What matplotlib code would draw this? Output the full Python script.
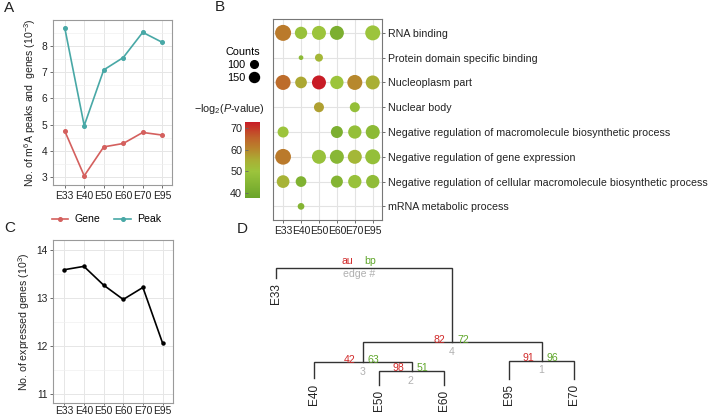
import numpy as np
import matplotlib
matplotlib.use('Agg')
import matplotlib.pyplot as plt
from matplotlib.colors import LinearSegmentedColormap, Normalize
from matplotlib.lines import Line2D

plt.rcParams['font.family'] = ['Liberation Sans', 'DejaVu Sans']
plt.rcParams['mathtext.fontset'] = 'custom'
plt.rcParams['mathtext.rm'] = 'Liberation Sans'
plt.rcParams['mathtext.it'] = 'Liberation Sans:italic'

# ---- data ----
stages = ['E33', 'E40', 'E50', 'E60', 'E70', 'E95']
gene_num = [4.76, 3.05, 4.15, 4.28, 4.70, 4.60]      # m6A genes (10^3)
peak_num = [8.69, 4.96, 7.08, 7.55, 8.51, 8.13]      # m6A peaks (10^3)
expressed = [13.59, 13.66, 13.27, 12.97, 13.22, 12.06]

go_terms = [
    'RNA binding',
    'Protein domain specific binding',
    'Nucleoplasm part',
    'Nuclear body',
    'Negative regulation of macromolecule biosynthetic process',
    'Negative regulation of gene expression',
    'Negative regulation of cellular macromolecule biosynthetic process',
    'mRNA metabolic process',
]
nan = np.nan
# counts per term (rows) and stage (cols)
go_counts = np.array([
    [340, 213, 267, 267, nan, 302],
    [nan, 55, 106, nan, nan, nan],
    [302, 195, 267, 244, 302, 267],
    [nan, nan, 150, nan, 150, nan],
    [176, nan, nan, 204, 244, 267],
    [330, nan, 267, 267, 267, 302],
    [225, 168, nan, 204, 244, 244],
    [nan, 83, nan, nan, nan, nan],
])
go_logp = np.array([
    [62, 49, 50, 42, nan, 50],
    [nan, 46, 53, nan, nan, nan],
    [64, 56, 73, 50, 60, 55],
    [nan, nan, 57, nan, 48, nan],
    [50, nan, nan, 42, 48, 46],
    [62, nan, 49, 45, 53, 48],
    [54, 43, nan, 44, 49, 47],
    [nan, 44, nan, nan, nan, nan],
])
count_keys = [100, 150]

# dendrogram (pvclust), edges numbered as in the picture
leaf_names = ['E33', 'E40', 'E50', 'E60', 'E95', 'E70']
leaf_x = [0.41, 1, 2, 3, 4, 5]
leaf_end = [1.073, 0.066, 0.0, 0.0, 0.06, 0.06]
edge_children = [('E95', 'E70'), ('E50', 'E60'), ('E40', 2), (3, 1), ('E33', 4)]
edge_height = [0.243, 0.14, 0.227, 0.427, 1.167]
edge_au = [91, 98, 42, 82, None]
edge_bp = [96, 51, 63, 72, None]

W, H = 711, 416
fig = plt.figure(figsize=(W / 100, H / 100), dpi=100)


def px_box(l, t, r, b):
    return [l / W, 1 - b / H, (r - l) / W, (b - t) / H]


def gg_style(ax):
    ax.grid(which='major', color='#e6e6e6', lw=0.7)
    ax.grid(which='minor', axis='y', color='#f0f0f0', lw=0.5)
    ax.set_axisbelow(True)
    for s in ax.spines.values():
        s.set_color('#9a9a9a')
        s.set_linewidth(0.8)
    ax.tick_params(which='major', length=2.5, width=0.6, color='#555555',
                   labelsize=7.4, pad=1.5, labelcolor='#222222')
    ax.tick_params(which='minor', length=0)


ink = '#222222'
gene_col = '#d4605e'
peak_col = '#48a8a6'
x = np.arange(len(stages))

# ---- A ----
axA = fig.add_axes(px_box(53, 20, 172, 185))
axA.plot(x, gene_num, color=gene_col, lw=1.2, marker='o', ms=2.6, label='Gene')
axA.plot(x, peak_num, color=peak_col, lw=1.2, marker='o', ms=2.6, label='Peak')
axA.set_xticks(x, stages)
axA.set_yticks([3, 4, 5, 6, 7, 8])
axA.set_yticks(np.arange(2.5, 9.0, 1.0), minor=True)
axA.set_xlim(-0.6, 5.5)
axA.set_ylim(2.70, 8.98)
gg_style(axA)
axA.set_ylabel('No. of m$^6$A peaks and  genes (10$^{-3}$)', fontsize=7.6,
               color=ink, labelpad=3)
axA.legend(loc='upper center', bbox_to_anchor=(0.45, -0.12), ncol=2,
           frameon=False, fontsize=7.6, handlelength=1.6, columnspacing=1.3,
           handletextpad=0.6)

# ---- C ----
axC = fig.add_axes(px_box(53, 240, 173, 403))
axC.plot(x, expressed, color='black', lw=1.2, marker='o', ms=2.2)
axC.set_xticks(x, stages)
axC.set_yticks([11, 12, 13, 14])
axC.set_yticks(np.arange(11.5, 14.1, 1.0), minor=True)
axC.set_xlim(-0.57, 5.53)
axC.set_ylim(10.81, 14.21)
gg_style(axC)
axC.tick_params(axis='x', length=1.5, pad=0.8)
axC.set_ylabel('No. of expressed genes (10$^{3}$)', fontsize=7.6, color=ink,
               labelpad=3)

# ---- B ----
cmap = LinearSegmentedColormap.from_list('gr', [
    (0.0, '#6aa42a'), (0.35, '#9cc43c'), (0.5, '#aaae34'),
    (0.65, '#b8842c'), (0.8, '#c0602a'), (1.0, '#c81c26')])
norm = Normalize(37.5, 73)


def dot_size(c):
    return (0.82 * np.asarray(c, float) - 23) / 1.929


axB = fig.add_axes(px_box(272.7, 19, 381.7, 220))
yy, xx = np.mgrid[0:len(go_terms), 0:len(stages)]
m = ~np.isnan(go_counts)
sc = axB.scatter(xx[m], yy[m], s=dot_size(go_counts[m]), c=go_logp[m],
                 cmap=cmap, norm=norm, edgecolors='none', zorder=3)
axB.set_xticks(x, stages)
axB.set_yticks(range(len(go_terms)), go_terms)
axB.yaxis.tick_right()
axB.set_xlim(-0.58, 5.5)
axB.set_ylim(7.55, -0.56)
axB.grid(color='#e3e3e3', lw=0.8)
axB.set_axisbelow(True)
for s in axB.spines.values():
    s.set_color('#777777')
    s.set_linewidth(0.8)
axB.tick_params(length=2.5, width=0.6, color='#555555', labelcolor=ink, pad=1.5)
axB.tick_params(axis='x', labelsize=7.5)
axB.tick_params(axis='y', labelsize=7.7, pad=2)

handles = [Line2D([], [], ls='', marker='o', color='black',
                  markersize=np.sqrt(dot_size(c))) for c in count_keys]
fig.legend(handles, [str(c) for c in count_keys], title='Counts',
           loc='upper right', bbox_to_anchor=(266 / W, 1 - 42 / H),
           frameon=False, fontsize=7.8, title_fontsize=7.8, markerfirst=False,
           handletextpad=0.3, labelspacing=0.25, borderpad=0, handlelength=1.0)

fig.text(265 / W, 1 - 109 / H, '\u2212log$_2$($\\mathit{P}$-value)',
         ha='right', va='center', fontsize=7.8, color=ink)
cax = fig.add_axes(px_box(245, 122, 260, 198))
cb = fig.colorbar(sc, cax=cax, ticks=[40, 50, 60, 70])
cb.outline.set_visible(False)
cax.yaxis.set_ticks_position('left')
cax.tick_params(direction='in', length=2.5, width=0.6, color='#666666',
                labelsize=7.8, labelcolor=ink, pad=2)

# ---- D ----
axD = fig.add_axes(px_box(250, 250, 600, 416))
axD.set_xlim(0.011, 5.395)
axD.set_ylim(-0.31, 1.35)
axD.axis('off')

au_col = '#d12a2a'
bp_col = '#5fa62a'
edge_col = '#b0b0b0'
pos = {}
for name, lx, le in zip(leaf_names, leaf_x, leaf_end):
    pos[name] = (lx, le)
    axD.annotate(name, (lx, le), xytext=(0, -3.6), textcoords='offset points',
                 rotation=90, ha='center', va='top', fontsize=8.5, color=ink)

n_edges = len(edge_children)
for k, ((a, b), h) in enumerate(zip(edge_children, edge_height), start=1):
    xa, ya = pos[a]
    xb, yb = pos[b]
    axD.plot([xa, xa, xb, xb], [ya, h, h, yb], color='#333333', lw=1.0,
             solid_joinstyle='miter')
    xm = (xa + xb) / 2
    pos[k] = (xm, h)
    if k < n_edges:
        axD.annotate(str(edge_au[k - 1]), (xm, h), xytext=(-5.3, -0.3),
                     textcoords='offset points', ha='right', va='baseline',
                     fontsize=7.6, color=au_col)
        axD.annotate(str(edge_bp[k - 1]), (xm, h), xytext=(3.3, -0.3),
                     textcoords='offset points', ha='left', va='baseline',
                     fontsize=7.6, color=bp_col)
        axD.annotate(str(k), (xm, h), xytext=(-0.7, -9.0),
                     textcoords='offset points', ha='center', va='baseline',
                     fontsize=7.6, color=edge_col)
    else:
        axD.annotate('au', (xm, h), xytext=(-8.1, 2.8),
                     textcoords='offset points', ha='right', va='baseline',
                     fontsize=7.6, color=au_col)
        axD.annotate('bp', (xm, h), xytext=(0.2, 2.8),
                     textcoords='offset points', ha='left', va='baseline',
                     fontsize=7.6, color=bp_col)
        axD.annotate('edge #', (xm, h), xytext=(-3.7, -6.3),
                     textcoords='offset points', ha='center', va='baseline',
                     fontsize=7.6, color=edge_col)

# panel letters
for lab, px, py in [('A', 4, 8), ('B', 215, 7), ('C', 4, 228), ('D', 237, 229)]:
    fig.text(px / W, 1 - py / H, lab, fontsize=11, ha='left', va='center',
             color=ink)

fig.savefig('out.png', dpi=100)
